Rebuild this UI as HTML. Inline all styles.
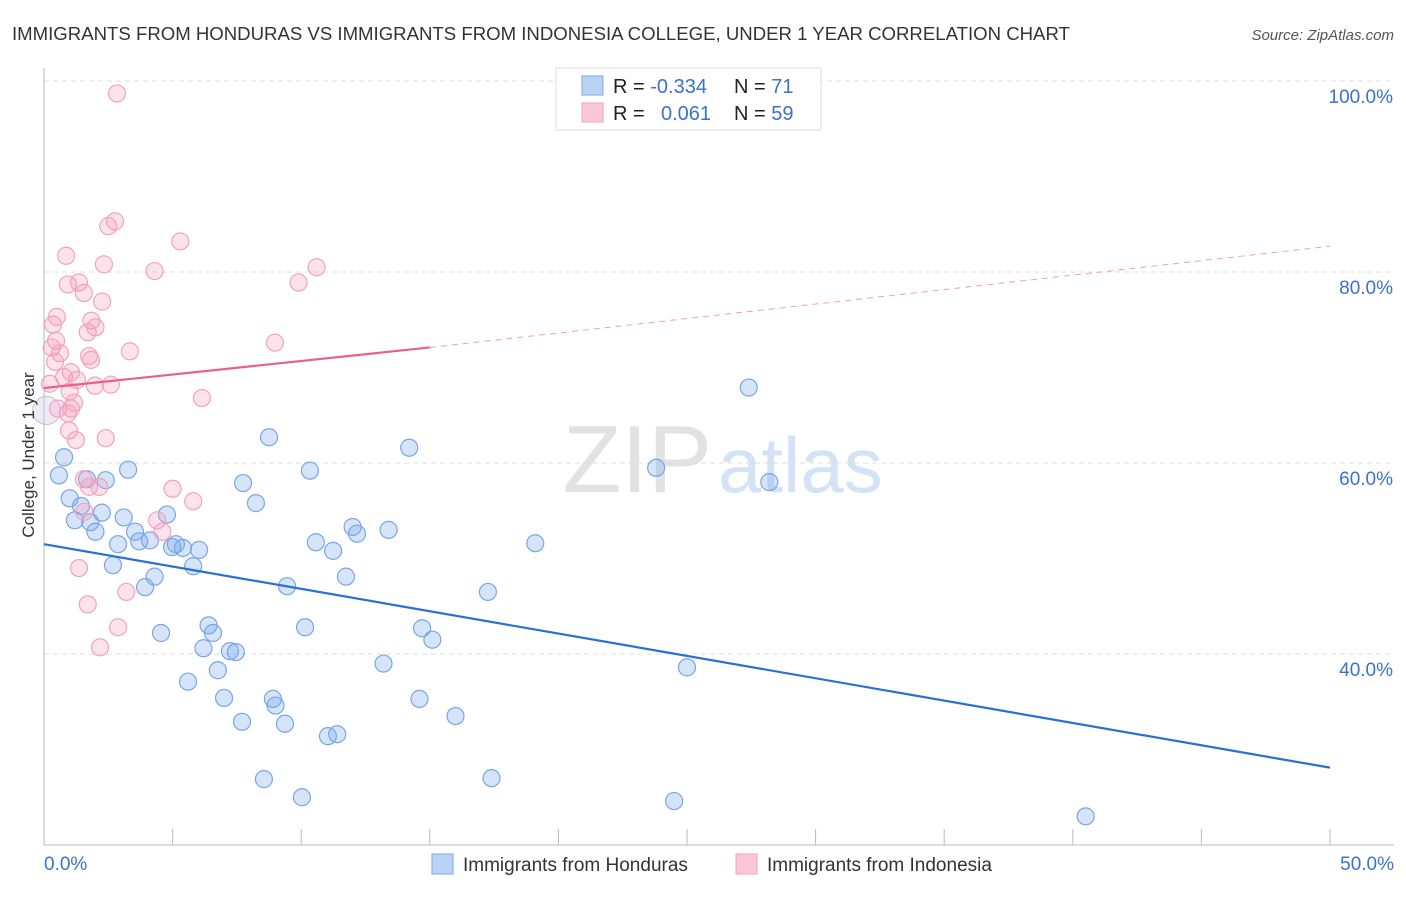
<!DOCTYPE html>
<html><head><meta charset="utf-8"><style>
body{margin:0;background:#fff;font-family:"Liberation Sans",sans-serif;}
svg text{font-family:"Liberation Sans",sans-serif;}
</style></head><body>
<svg id="chart" width="1406" height="892" xmlns="http://www.w3.org/2000/svg">
<text x="12" y="40" font-size="18.6" fill="#333">IMMIGRANTS FROM HONDURAS VS IMMIGRANTS FROM INDONESIA COLLEGE, UNDER 1 YEAR CORRELATION CHART</text>
<text x="1394" y="40" font-size="15" fill="#555" font-style="italic" text-anchor="end">Source: ZipAtlas.com</text>
<text x="712" y="492" font-size="96" fill="#e2e2e2" text-anchor="end" font-family="Liberation Serif">ZIP</text>
<text x="718" y="492" font-size="78" fill="#d3e2f5">atlas</text>
<g id="grid"></g>
<g id="axes"></g>
<g id="pts"></g>
<g id="lines"></g>
<text x="34" y="455" font-size="17" fill="#333" text-anchor="middle" transform="rotate(-90 34 455)">College, Under 1 year</text>
<g>
<rect x="556" y="68" width="265" height="62" fill="#fff" stroke="#ddd"/>
<rect x="582" y="76" width="21" height="19" fill="#b8d3f5" stroke="#7aa8e8"/>
<rect x="582" y="103" width="21" height="19" fill="#fcc8d8" stroke="#f0a0b8"/>
<text x="613" y="93" font-size="20" fill="#222">R = <tspan fill="#3a72d0">-0.334</tspan></text>
<text x="734" y="93" font-size="20" fill="#222">N = <tspan fill="#3a72d0"> 71</tspan></text>
<text x="613" y="120" font-size="20" fill="#222">R = <tspan fill="#3a72d0" x="661">0.061</tspan></text>
<text x="734" y="120" font-size="20" fill="#222">N = <tspan fill="#3a72d0">59</tspan></text>
</g>
<g>
<rect x="432" y="854" width="21" height="20" fill="#b8d3f5" stroke="#7aa8e8"/>
<text x="463" y="871" font-size="19" fill="#333">Immigrants from Honduras</text>
<rect x="736" y="854" width="21" height="20" fill="#fcc8d8" stroke="#f0a0b8"/>
<text x="767" y="871" font-size="19" fill="#333">Immigrants from Indonesia</text>
</g>
</svg>
<script>
const yTicks=[40,60,80,100];
const xTickLabels=["0.0%","50.0%"];
const blueX=[0.58,0.78,1.0,1.2,1.44,1.67,1.8,2.0,2.25,2.4,2.68,2.88,3.1,3.27,3.54,3.7,3.93,4.12,4.3,4.55,4.78,4.98,5.13,5.4,5.6,5.8,6.03,6.2,6.4,6.57,6.76,7.0,7.23,7.46,7.7,7.74,8.24,8.55,8.75,8.9,9.0,9.37,9.45,10.03,10.15,10.34,10.57,11.04,11.24,11.4,11.74,12.0,12.17,13.2,13.4,14.2,14.6,14.7,15.1,16.0,17.26,17.4,19.1,23.8,24.5,25.0,27.4,28.2,40.5];
const blueY=[58.7,60.6,56.3,54.0,55.5,58.3,53.8,52.8,54.8,58.2,49.3,51.5,54.3,59.3,52.8,51.8,47.0,51.9,48.1,42.2,54.6,51.2,51.5,51.1,37.1,49.2,50.9,40.6,43.0,42.2,38.3,35.4,40.3,40.2,32.9,57.9,55.8,26.9,62.7,35.3,34.6,32.7,47.1,25.0,42.8,59.2,51.7,31.4,50.8,31.6,48.1,53.3,52.6,39.0,53.0,61.6,35.3,42.7,41.5,33.5,46.5,27.0,51.6,59.5,24.6,38.6,67.9,58.0,23.0];
const pinkX=[2.84,2.76,2.5,5.3,0.86,2.33,4.3,10.6,1.36,0.93,9.9,1.55,2.26,0.5,1.84,0.35,2.0,1.7,0.47,0.3,8.98,3.34,0.62,1.75,1.83,0.43,1.05,0.78,0.23,1.28,1.98,2.6,1.0,6.14,1.17,0.54,1.05,0.93,0.97,2.4,1.24,1.55,1.75,2.15,5.0,5.8,1.56,4.4,4.6,1.36,1.7,3.2,2.88,2.18];
const pinkY=[98.7,85.3,84.8,83.2,81.7,80.8,80.1,80.5,78.9,78.7,78.9,77.8,76.9,75.3,74.9,74.5,74.2,73.7,72.8,72.1,72.6,71.7,71.5,71.2,70.8,70.6,69.5,69.0,68.3,68.7,68.1,68.2,67.5,66.8,66.3,65.7,65.7,65.2,63.4,62.6,62.4,58.3,57.5,57.5,57.3,56.0,54.9,54.0,52.8,49.0,45.2,46.5,42.8,40.7];
const blueTrend=[51.5,28.1];
const pinkTrend=[67.85,72.1,82.7];
const NS="http://www.w3.org/2000/svg";
const X=v=>44+v/50*1286, Y=v=>654-(v-40)/20*191;
function mk(t,a,p){const e=document.createElementNS(NS,t);for(const k in a)e.setAttribute(k,a[k]);document.getElementById(p).appendChild(e);return e;}
yTicks.forEach(t=>{
 const g=mk('line',{x1:44,x2:1394,y1:Y(t),y2:Y(t),stroke:'#ddd','stroke-dasharray':'5,4'},'grid');
 
 
 const l=mk('text',{x:1393,y:Y(t)+22,'font-size':19,fill:'#3a72d0','text-anchor':'end'},'grid');
 l.textContent=t.toFixed(1)+'%';
 
 
});
const ax=mk('line',{x1:44,x2:44,y1:68,y2:845,stroke:'#bbb'},'axes');


const bx=mk('line',{x1:44,x2:1394,y1:845,y2:845,stroke:'#bbb'},'axes');


for(let i=0;i<=10;i++){const t=mk('line',{x1:X(i*5),x2:X(i*5),y1:829,y2:845,stroke:'#bbb'},'axes');
 
 }
[[0,'start',44],[50,'end',1394]].forEach((d,i)=>{const t=mk('text',{x:d[2],y:870,'font-size':19,fill:'#3a72d0','text-anchor':d[1]},'axes');t.textContent=xTickLabels[i];
 
 });
const big=mk('circle',{cx:X(0.1),cy:Y(65.5),r:14,fill:'rgba(200,200,230,0.35)',stroke:'#d8b8d0'},'pts');


blueX.forEach((v,i)=>{const c=mk('circle',{cx:X(v),cy:Y(blueY[i]),r:8.5,fill:'rgba(120,165,235,0.3)',stroke:'#78a6e6','stroke-width':1.2},'pts');
 
 });
pinkX.forEach((v,i)=>{const c=mk('circle',{cx:X(v),cy:Y(pinkY[i]),r:8.5,fill:'rgba(245,160,190,0.3)',stroke:'#f0a3bd','stroke-width':1.2},'pts');
 
 });
const bl=mk('line',{x1:X(0),y1:Y(blueTrend[0]),x2:X(50),y2:Y(blueTrend[1]),stroke:'#2a6fd6','stroke-width':2.2},'lines');


const pl=mk('line',{x1:X(0),y1:Y(pinkTrend[0]),x2:X(15),y2:Y(pinkTrend[1]),stroke:'#e8608a','stroke-width':2.2},'lines');


const pd=mk('line',{x1:X(15),y1:Y(pinkTrend[1]),x2:X(50),y2:Y(pinkTrend[2]),stroke:'#e8a0b8','stroke-width':1,'stroke-dasharray':'6,5'},'lines');


</script>
</body></html>
